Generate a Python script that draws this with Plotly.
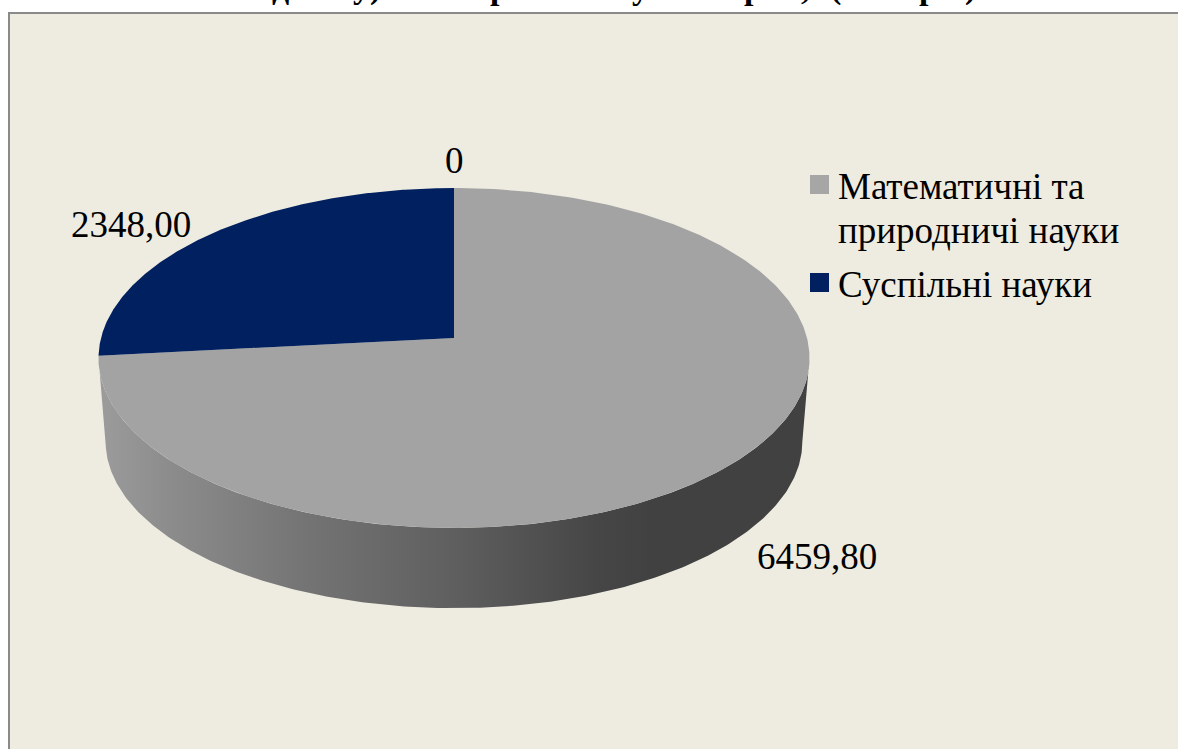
import numpy as np
import plotly.graph_objects as go

# --- data ---
categories = ["Математичні та природничі науки", "Суспільні науки"]
values = [6459.80, 2348.00]
slice_colors = ["#A3A3A3", "#002060"]
legend_colors = ["#A6A6A6", "#002060"]
legend_lines = [["Математичні та", "природничі науки"], ["Суспільні науки"]]
value_labels = ["6459,80", "2348,00", "0"]
label_pos = [(817, 556), (131, 224), (454, 160)]
# only the lower edge of the title survives in the picture
title_parts = ["д", "у)", "р", "у", "р", ",", "(", "р", ")"]
title_part_x = [280, 367, 499, 640, 753, 805, 835, 928, 970]

# --- 3D-pie projection (pixel axes) ---
W, H = 1178, 749
CX, CY, A, B, K = 454, 338, 353, 167.6, 0.1176
DROP, SHRINK = 84, 0.98
SERIF = "Liberation Serif, Times New Roman, serif"
LEGEND_SWATCH_X, LEGEND_TEXT_X, LEGEND_LINE_GAP = 819.5, 838, 44
LEGEND_ENTRY_Y = [186, 284]
LEGEND_SWATCH_LIFT = 1.5


def rim(theta, lower=False):
    """Angle clockwise from 12 o'clock -> pixel coordinates on a rim."""
    u, v = np.sin(theta), np.cos(theta)
    d = 1 + K * v
    x, y = A * u / d, -B * v / d
    if lower:
        return CX + SHRINK * x, CY + DROP + SHRINK * y
    return CX + x, CY + y


fig = go.Figure()

# side wall, between the two silhouette points of the front rim
edge = np.arcsin(np.sqrt(1 - K * K))
t = np.linspace(np.pi - edge, np.pi + edge, 240)
x_top, y_top = rim(t)
x_low, y_low = rim(t[::-1], lower=True)
fig.add_trace(go.Scatter(
    x=np.r_[x_top, x_low], y=np.r_[y_top, y_low], mode="lines", fill="toself",
    line=dict(width=0), showlegend=False, hoverinfo="skip",
    fillgradient=dict(
        type="horizontal", start=98, stop=809,
        colorscale=[[0, "#9C9C9C"], [0.1, "#8C8C8C"], [0.3, "#737373"],
                    [0.5, "#5F5F5F"], [0.7, "#464646"], [0.78, "#414141"], [1, "#414141"]],
    ),
))

# top surface: slices from the values, clockwise from 12 o'clock
total = sum(values)
start = 0.0
for name, val, col in zip(categories, values, slice_colors):
    stop = start + 2 * np.pi * val / total
    ang = np.linspace(start, stop, 300)
    xs, ys = rim(ang)
    fig.add_trace(go.Scatter(
        x=np.r_[CX, xs, CX], y=np.r_[CY, ys, CY], mode="lines", fill="toself",
        fillcolor=col, line=dict(width=0), showlegend=False, name=name,
        hoverinfo="name",
    ))
    start = stop

# legend swatches (first line of each entry, as in the reference)
fig.add_trace(go.Scatter(
    x=[LEGEND_SWATCH_X] * len(categories),
    y=[y - LEGEND_SWATCH_LIFT for y in LEGEND_ENTRY_Y],
    mode="markers", showlegend=False, text=categories, hoverinfo="text",
    marker=dict(symbol="square", size=19, color=legend_colors, line=dict(width=0)),
))

annotations = [
    dict(x=px, y=py, text=txt, showarrow=False, xref="x", yref="y",
         font=dict(family=SERIF, size=37, color="#000000"))
    for txt, (px, py) in zip(value_labels, label_pos)
]
for lines, y0 in zip(legend_lines, LEGEND_ENTRY_Y):
    for i, line in enumerate(lines):
        annotations.append(dict(
            x=LEGEND_TEXT_X, y=y0 + i * LEGEND_LINE_GAP, text=line, xanchor="left",
            showarrow=False, xref="x", yref="y", xshift=-2,
            font=dict(family=SERIF, size=37, color="#000000"),
        ))
annotations += [
    dict(x=px, y=0, yanchor="bottom", yshift=-8, text=f"<b>{txt}</b>", showarrow=False,
         xref="x", yref="y", font=dict(family=SERIF, size=34, color="#000000"))
    for txt, px in zip(title_parts, title_part_x)
]

fig.update_layout(
    width=W, height=H, margin=dict(l=0, r=0, t=0, b=0, pad=0),
    paper_bgcolor="#FFFFFF", plot_bgcolor="#FFFFFF",
    xaxis=dict(range=[0, W], visible=False, fixedrange=True),
    yaxis=dict(range=[H, 0], visible=False, fixedrange=True),
    shapes=[dict(type="rect", xref="x", yref="y", x0=9, y0=13, x1=W + 20, y1=H + 20,
                 fillcolor="#EEEBE0", line=dict(color="#8A8A8A", width=2), layer="below")],
    annotations=annotations,
    showlegend=False,
)

fig.write_html("out.html", config=dict(displayModeBar=False),
               post_script="document.body.style.margin='0';document.body.style.overflow='hidden';")
